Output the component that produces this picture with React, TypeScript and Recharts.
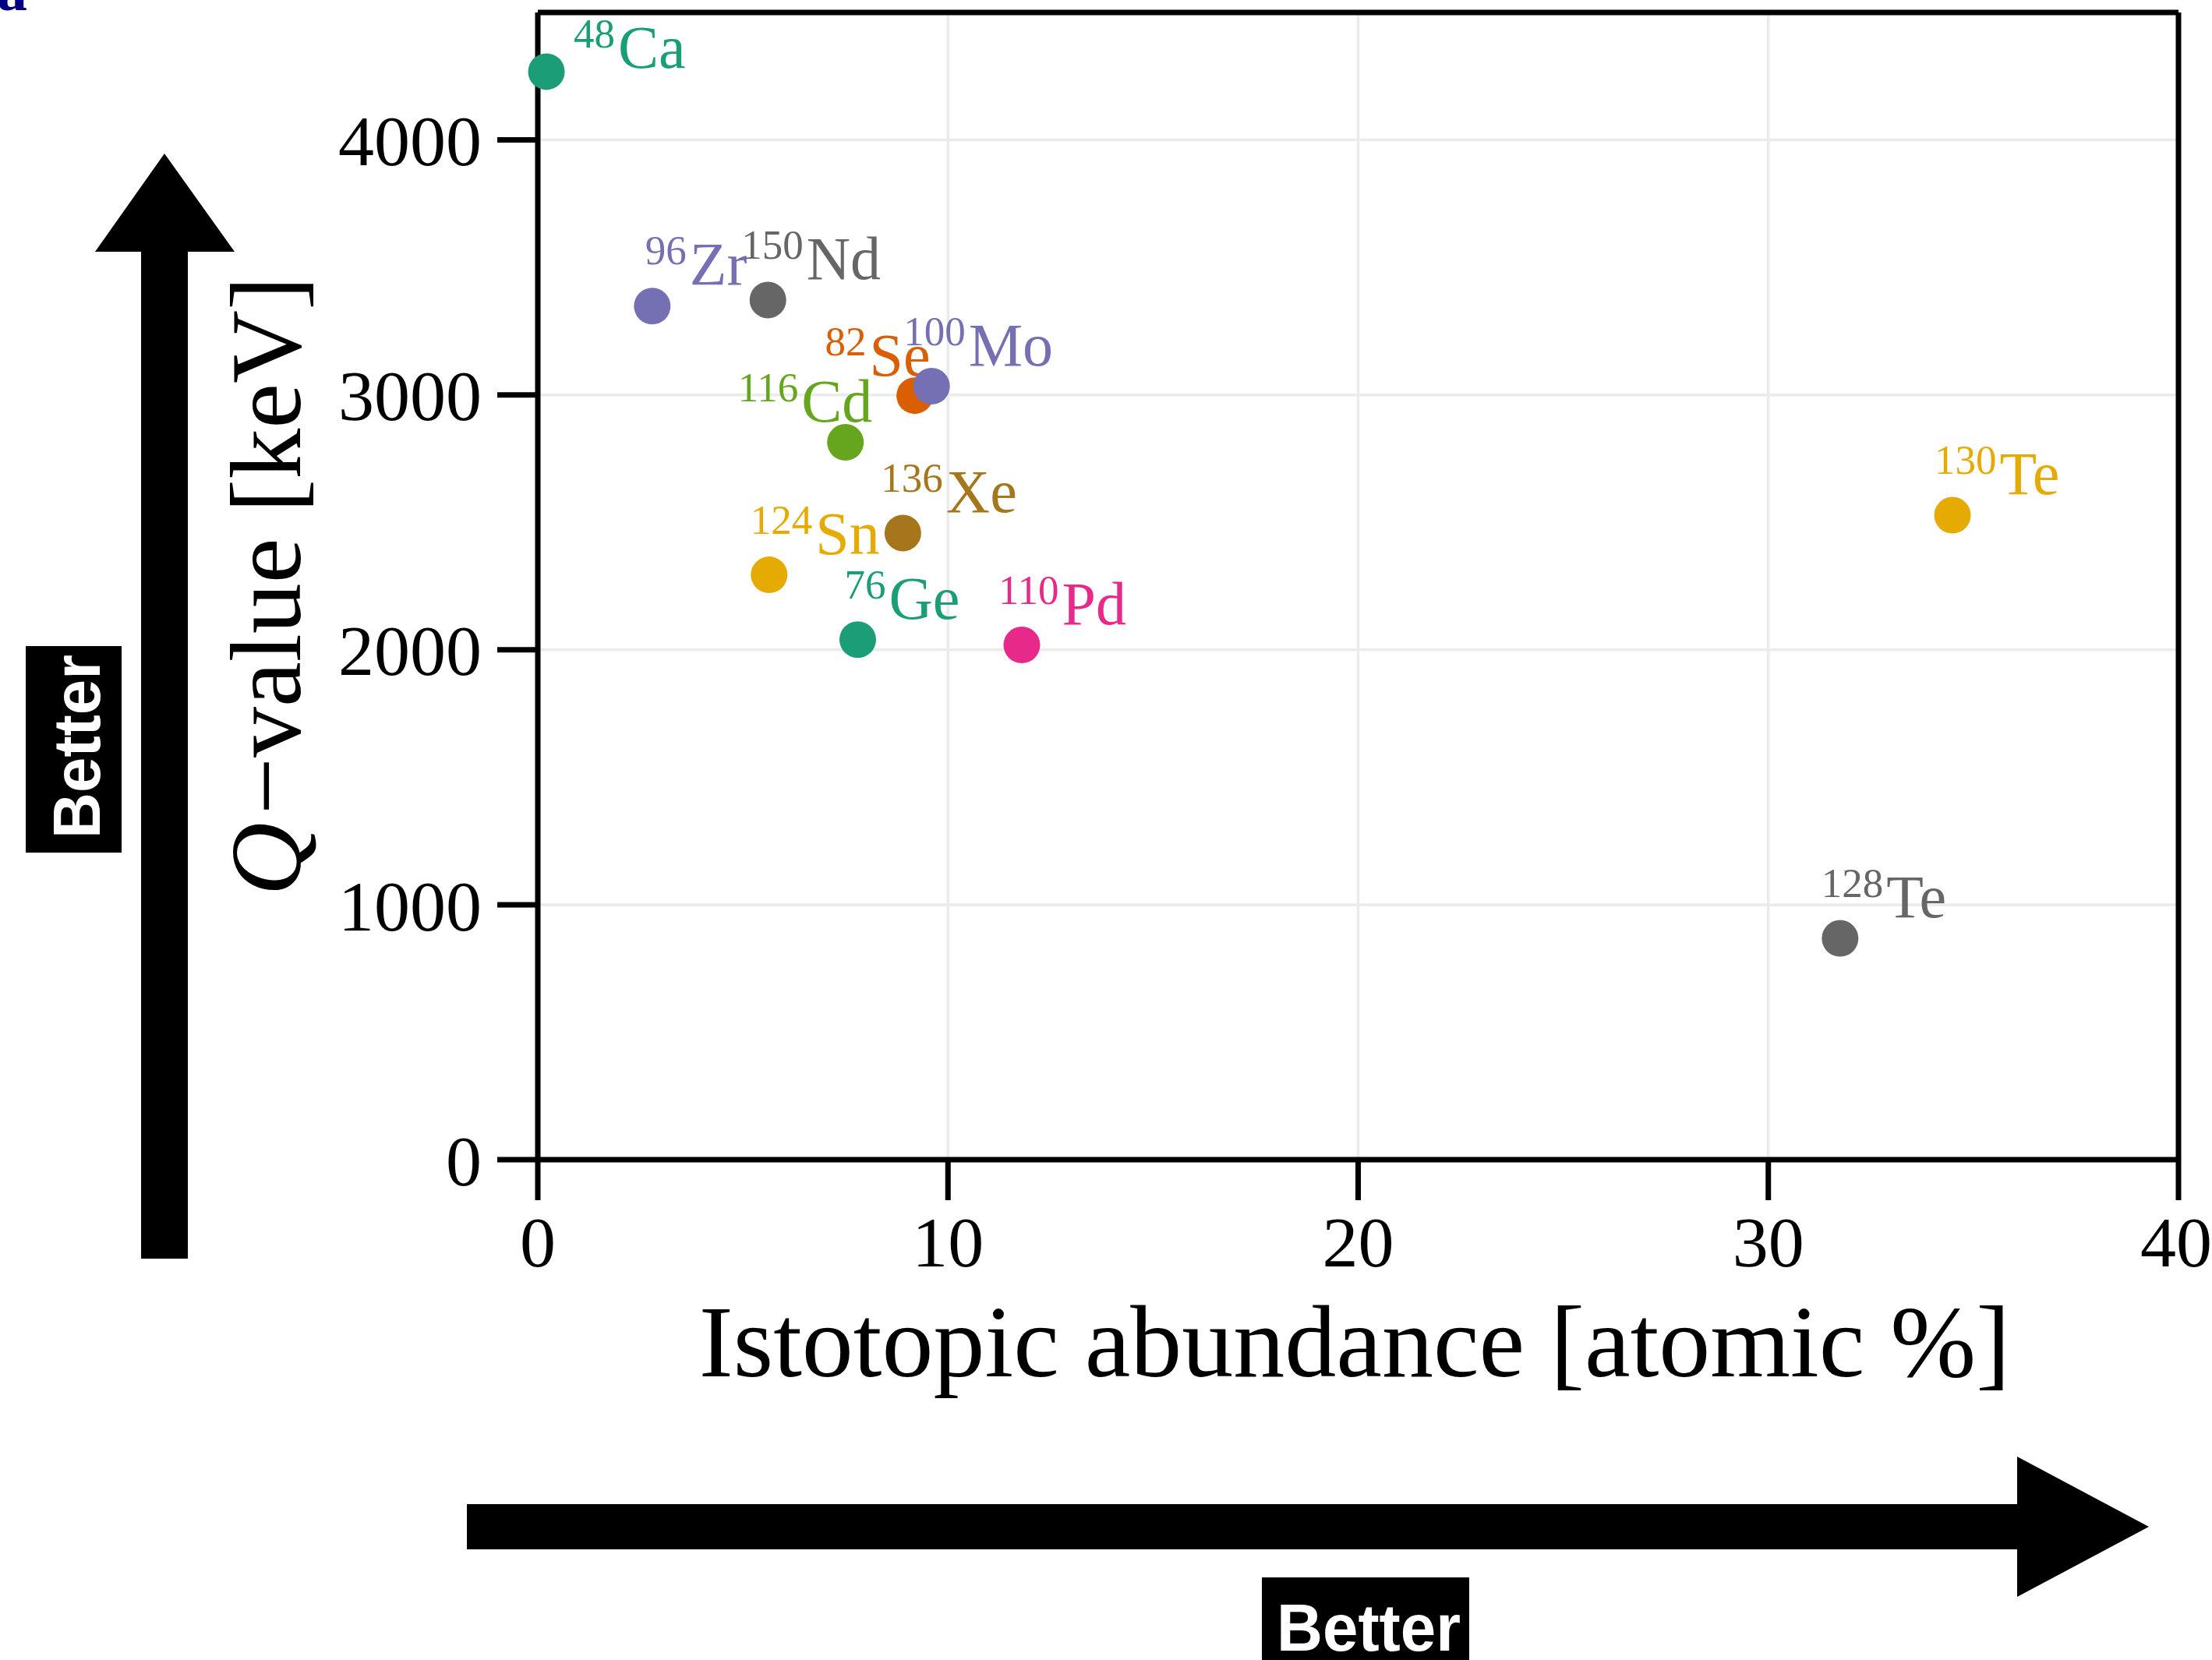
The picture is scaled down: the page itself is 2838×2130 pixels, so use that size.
import { ScatterChart, Scatter, XAxis, YAxis, CartesianGrid, ReferenceLine } from 'recharts';

const FONT = '"Liberation Serif", "DejaVu Serif", serif';
const SANS = '"Liberation Sans", Arial, sans-serif';

// isotopes, in drawing order
const massNumbers = ['48', '76', '82', '96', '100', '110', '116', '124', '128', '130', '136', '150'];
const elements = ['Ca', 'Ge', 'Se', 'Zr', 'Mo', 'Pd', 'Cd', 'Sn', 'Te', 'Te', 'Xe', 'Nd'];
// natural isotopic abundance [atomic %]
const abundance = [0.21, 7.8, 9.19, 2.79, 9.6, 11.8, 7.5, 5.64, 31.75, 34.49, 8.9, 5.61];
// Q-value [keV]
const qValues = [4268, 2040, 2997, 3348, 3034, 2019, 2814, 2294, 868, 2528, 2458, 3372];

const xTicks = [0, 10, 20, 30, 40];
const yTicks = [0, 1000, 2000, 3000, 4000];

// style: Dark2 colours per isotope
const pointColors = ['#1b9e77', '#1b9e77', '#d95f02', '#7570b3', '#7570b3', '#e7298a', '#66a61e', '#e6ab02', '#666666', '#e6ab02', '#a6761d', '#666666'];
// label offset from the marker centre, px
const labelOffsets = [
  [35, -5], [-17, -27], [-115, -26], [-9, -28], [-36, -27], [-30, -27],
  [-138, -27], [-24, -27], [-24, -27], [-23, -27], [-28, -27], [-34, -27],
];

const data = abundance.map((x, i) => ({ x, y: qValues[i], mass: massNumbers[i], el: elements[i], i }));

function IsotopePoint(props: any) {
  const { cx, cy, payload } = props;
  const color = pointColors[payload.i];
  const [dx, dy] = labelOffsets[payload.i];
  return (
    <g>
      <circle cx={cx} cy={cy} r={23.5} fill={color} />
      <text x={cx + dx} y={cy + dy} fill={color} fontFamily={FONT}>
        <tspan fontSize={53} dy={-26}>{payload.mass}</tspan>
        <tspan fontSize={78} dy={26} dx={4}>{payload.el}</tspan>
      </text>
    </g>
  );
}

const XLabel = () => (
  <text x={1738} y={1766} textAnchor="middle" fontFamily={FONT} fontSize={132} fill="#000">
    Istotopic abundance [atomic %]
  </text>
);

const YLabel = () => (
  <text x={385} y={752} transform="rotate(-90 385 752)" textAnchor="middle" fontFamily={FONT} fontSize={130} fill="#000">
    <tspan fontStyle="italic">Q</tspan>
    <tspan dx={10}>{'\u2212value [keV]'}</tspan>
  </text>
);

const axisStroke = { stroke: '#000', strokeWidth: 7 };

export default function App() {
  return (
    <div style={{ position: 'absolute', left: 0, top: 0, width: 2838, height: 2130, background: '#fff' }}>
      <ScatterChart width={2838} height={2130} margin={{ top: 16, right: 43, bottom: 0, left: 0 }}>
        <CartesianGrid stroke="#ebebeb" strokeWidth={3.5} />
        <XAxis
          type="number"
          dataKey="x"
          domain={[0, 40]}
          ticks={xTicks}
          height={642}
          tickSize={52}
          tickMargin={20}
          axisLine={axisStroke}
          tickLine={axisStroke}
          tick={{ fontSize: 92, fill: '#000', fontFamily: FONT }}
          label={<XLabel />}
        />
        <YAxis
          type="number"
          dataKey="y"
          domain={[0, 4500]}
          ticks={yTicks}
          width={690}
          tickSize={52}
          tickMargin={20}
          axisLine={axisStroke}
          tickLine={axisStroke}
          tick={{ fontSize: 92, fill: '#000', fontFamily: FONT }}
          label={<YLabel />}
        />
        <ReferenceLine x={40} stroke="#000" strokeWidth={7} />
        <ReferenceLine y={4500} stroke="#000" strokeWidth={7} />
        <Scatter data={data} isAnimationActive={false} shape={IsotopePoint} />
      </ScatterChart>

      {/* "Better" arrows around the axes */}
      <svg width={2838} height={2130} style={{ position: 'absolute', left: 0, top: 0, pointerEvents: 'none' }}>
        <text x={-4} y={13} fontFamily={FONT} fontWeight="bold" fontSize={78} fill="#000080">a</text>
        <polygon points="181,1615 181,323 122,323 211,197 301,323 241,323 241,1615" fill="#000" />
        <rect x={33} y={829} width={123} height={265} fill="#000" />
        <text x={128} y={958} transform="rotate(-90 128 958)" textAnchor="middle" fontFamily={SANS} fontWeight="bold"
          fontSize={86} fill="#fff" textLength={236} lengthAdjust="spacingAndGlyphs">Better</text>
        <polygon points="599,1930 2588,1930 2588,1869 2757,1959 2588,2049 2588,1988 599,1988" fill="#000" />
        <rect x={1619} y={2024} width={266} height={123} fill="#000" />
        <text x={1756} y={2118} textAnchor="middle" fontFamily={SANS} fontWeight="bold"
          fontSize={86} fill="#fff" textLength={236} lengthAdjust="spacingAndGlyphs">Better</text>
      </svg>
    </div>
  );
}
